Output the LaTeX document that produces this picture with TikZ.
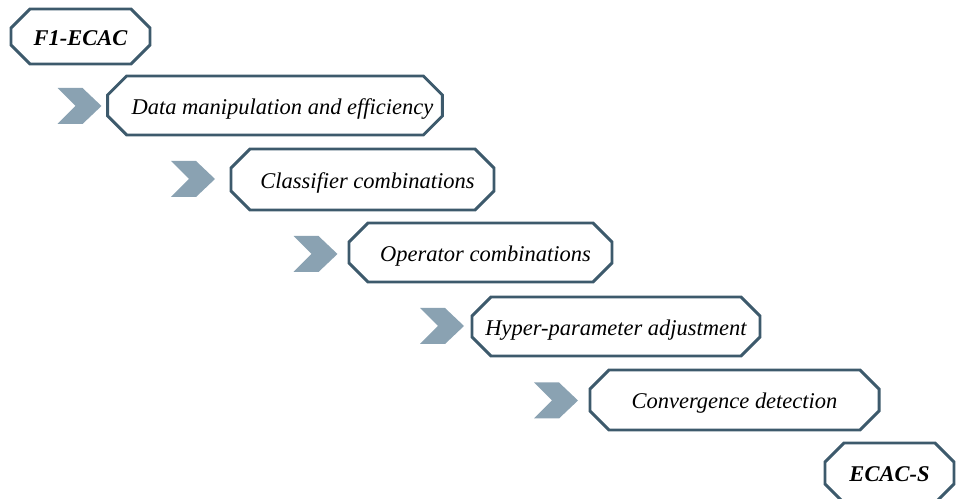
\documentclass[tikz,border=0pt]{standalone}
\usepackage{fontspec}
\setmainfont{Liberation Serif}
\usetikzlibrary{shapes.misc}
\definecolor{stepline}{HTML}{3D5A6C}
\definecolor{chevfill}{HTML}{8AA2B2}

\begin{document}
\begin{tikzpicture}[x=0.2mm, y=-0.2mm, font=\fontsize{12.8}{15}\selectfont\itshape,
	stage/.style={chamfered rectangle, chamfered rectangle xsep=2.8mm, chamfered rectangle ysep=2mm,
		draw=stepline, line width=1.7pt, fill=white, inner sep=0pt, text height=10.2pt, text depth=0pt},
	chev/.pic={\fill[chevfill] (-22,-18) -- (3,-18) -- (22,0) -- (3,18) -- (-22,18) -- (-4,0) -- cycle;}]
	\useasboundingbox (0,0) rectangle (956,499);
	\node[stage, minimum width=27.8mm, minimum height=11mm] (f1) at (80.5,36.5) {\bfseries F1-ECAC};
	\node[stage, minimum width=66mm, minimum height=11.8mm] (data) at (275,105.5) {\hspace{3mm}Data manipulation and efficiency};
	\node[stage, minimum width=52.6mm, minimum height=12.2mm] (clf) at (362.5,179.5) {\hspace{2mm}Classifier combinations};
	\node[stage, minimum width=52.6mm, minimum height=11.8mm] (op) at (480.5,252.5) {\hspace{2mm}Operator combinations};
	\node[stage, minimum width=57.6mm, minimum height=11.8mm] (hyper) at (616,326.5) {Hyper-parameter adjustment};
	\node[stage, minimum width=57.8mm, minimum height=12mm] (conv) at (734.5,400) {Convergence detection};
	\node[stage, minimum width=25.8mm, minimum height=12mm] (ecacs) at (889.5,473) {\bfseries ECAC-S};
	\pic at (79.5,106) {chev};
	\pic at (193,179) {chev};
	\pic at (315.5,254) {chev};
	\pic at (442,326) {chev};
	\pic at (556,400.5) {chev};
\end{tikzpicture}
\end{document}
